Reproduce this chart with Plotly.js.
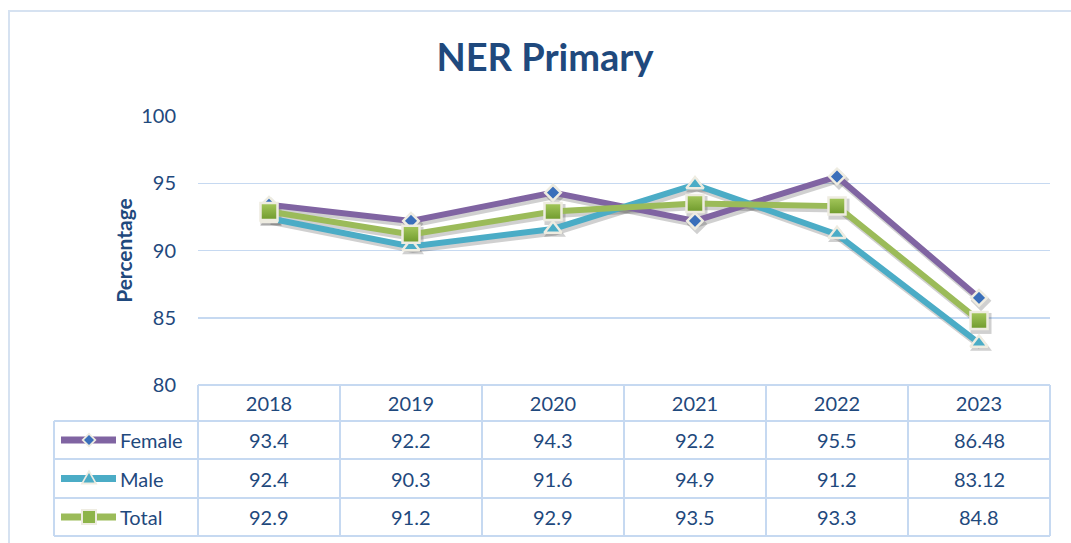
<!DOCTYPE html>
<html>
<head>
<meta charset="utf-8">
<script src="https://cdn.plot.ly/plotly-3.0.1.min.js"></script>
<style>html,body{margin:0;padding:0;background:#fff;}#chart{width:1071px;height:543px;}</style>
</head>
<body>
<div id="chart"></div>
<script>
const years = [2018, 2019, 2020, 2021, 2022, 2023];
const female = [93.4, 92.2, 94.3, 92.2, 95.5, 86.48];
const male = [92.4, 90.3, 91.6, 94.9, 91.2, 83.12];
const total = [92.9, 91.2, 92.9, 93.5, 93.3, 84.8];
const seriesNames = ['Female', 'Male', 'Total'];

const W = 1071, H = 543;
const px = x => x / W;
const py = y => 1 - y / H;

const TXT = '#1f497d';
const FONT = 'Lato, "Open Sans", sans-serif';
const GRID = '#c6d9f1';
const cPurple = '#8064a2', cTeal = '#4bacc6', cGreen = '#9bbb59';
const cream = '#eeece1';

const plotL = 198, plotR = 1050, plotT = 116, plotB = 385;
const xDom = [px(plotL), px(plotR)];
const yDom = [py(plotB), py(plotT)];
const sdx = 2, sdy = 3;
const xDomS = [px(plotL + sdx), px(plotR + sdx)];
const yDomS = [py(plotB + sdy), py(plotT + sdy)];
const xRange = [years[0] - 0.5, years[years.length - 1] + 0.5];
const yRange = [80, 100];

const styles = [
  {color: cPurple, symbol: 'diamond', size: 12, mcolor: '#3a6fba', grad: null},
  {color: cTeal, symbol: 'triangle-up', size: 15, mcolor: '#4bacc6', grad: null},
  {color: cGreen, symbol: 'square', size: 17, mcolor: '#a5c85c', grad: '#6f9a2c'}
];
const data = [female, male, total];

const traces = [];
// shadows
data.forEach((vals, i) => {
  const s = styles[i];
  traces.push({
    x: years, y: vals, xaxis: 'x2', yaxis: 'y2', type: 'scatter', mode: 'lines+markers',
    line: {color: 'rgba(40,40,40,0.22)', width: 7},
    marker: {symbol: s.symbol, size: s.size + 4, color: 'rgba(40,40,40,0.22)', line: {width: 0}},
    showlegend: false, hoverinfo: 'skip'
  });
});
// main series
data.forEach((vals, i) => {
  const s = styles[i];
  const m = {symbol: s.symbol, size: s.size, color: s.mcolor, line: {color: cream, width: 2.5}};
  if (s.grad) m.gradient = {type: 'vertical', color: s.grad};
  traces.push({
    x: years, y: vals, name: seriesNames[i], xaxis: 'x3', yaxis: 'y3', type: 'scatter', mode: 'lines+markers',
    line: {color: s.color, width: 6},
    marker: m, showlegend: false
  });
});

// table geometry (pixels)
const labelL = 54;
const rowLines = [421, 459, 498, 536];
const rowCenters = [440, 478.5, 517];
const shapes = [];
const lineShape = (x0, y0, x1, y1, color, width) => ({
  type: 'line', xref: 'paper', yref: 'paper', x0: px(x0), y0: py(y0), x1: px(x1), y1: py(y1),
  line: {color: color, width: width}, layer: 'above'
});
// outer chart border
shapes.push({type: 'rect', xref: 'paper', yref: 'paper', x0: px(9), y0: py(11), x1: px(1090), y1: py(560),
  line: {color: '#d6e2f1', width: 2}, layer: 'below'});
// table borders
const TB = '#c6d9f1';
shapes.push(lineShape(plotL, plotB, plotR, plotB, TB, 2));
rowLines.forEach(y => shapes.push(lineShape(labelL, y, plotR, y, TB, 2)));
shapes.push(lineShape(labelL, rowLines[0], labelL, rowLines[3], TB, 2));
const colW = (plotR - plotL) / years.length;
for (let i = 0; i <= years.length; i++) {
  const x = plotL + i * colW;
  shapes.push(lineShape(x, plotB, x, rowLines[3], TB, 2));
}
// legend keys
const pathFrom = pts => 'M' + pts.map(p => px(p[0]) + ',' + py(p[1])).join('L') + 'Z';
const keyX0 = 61, keyX1 = 116, keyM = 89;
[cPurple, cTeal, cGreen].forEach((c, i) => {
  shapes.push(lineShape(keyX0, rowCenters[i], keyX1, rowCenters[i], c, 7));
});
const kc = rowCenters;
shapes.push({type: 'path', xref: 'paper', yref: 'paper', path: pathFrom([[keyM, kc[0] - 7.5], [keyM + 7.5, kc[0]], [keyM, kc[0] + 7.5], [keyM - 7.5, kc[0]]]),
  fillcolor: cream, line: {width: 0}, layer: 'above'});
shapes.push({type: 'path', xref: 'paper', yref: 'paper', path: pathFrom([[keyM, kc[0] - 5], [keyM + 5, kc[0]], [keyM, kc[0] + 5], [keyM - 5, kc[0]]]),
  fillcolor: '#3a6fba', line: {width: 0}, layer: 'above'});
shapes.push({type: 'path', xref: 'paper', yref: 'paper', path: pathFrom([[keyM, kc[1] - 9], [keyM + 8.5, kc[1] + 6], [keyM - 8.5, kc[1] + 6]]),
  fillcolor: cream, line: {width: 0}, layer: 'above'});
shapes.push({type: 'path', xref: 'paper', yref: 'paper', path: pathFrom([[keyM, kc[1] - 5.5], [keyM + 5.5, kc[1] + 4], [keyM - 5.5, kc[1] + 4]]),
  fillcolor: cTeal, line: {width: 0}, layer: 'above'});
shapes.push({type: 'path', xref: 'paper', yref: 'paper', path: pathFrom([[keyM - 8, kc[2] - 8], [keyM + 8, kc[2] - 8], [keyM + 8, kc[2] + 8], [keyM - 8, kc[2] + 8]]),
  fillcolor: cream, line: {width: 0}, layer: 'above'});
shapes.push({type: 'path', xref: 'paper', yref: 'paper', path: pathFrom([[keyM - 6, kc[2] - 6], [keyM + 6, kc[2] - 6], [keyM + 6, kc[2] + 6], [keyM - 6, kc[2] + 6]]),
  fillcolor: '#8db44a', line: {width: 0}, layer: 'above'});

// annotations: labels and values
const annotations = [];
seriesNames.forEach((n, i) => {
  annotations.push({xref: 'paper', yref: 'paper', x: px(118), y: py(rowCenters[i]), xanchor: 'left', yanchor: 'middle',
    text: n, showarrow: false, font: {family: FONT, size: 20, color: TXT}});
  data[i].forEach((v, j) => {
    annotations.push({xref: 'x', yref: 'paper', x: years[j], y: py(rowCenters[i]), xanchor: 'center', yanchor: 'middle',
      text: String(v), showarrow: false, font: {family: FONT, size: 20, color: TXT}});
  });
});

const hiddenAxis = (dom, anchor, range) => ({domain: dom, anchor: anchor, range: range, visible: false, fixedrange: true});

const layout = {
  width: W, height: H,
  margin: {l: 0, r: 0, t: 0, b: 0},
  paper_bgcolor: '#ffffff', plot_bgcolor: 'rgba(0,0,0,0)',
  font: {family: FONT, color: TXT},
  title: {text: '<b>NER Primary</b>', font: {family: FONT, size: 38, color: TXT},
    x: px(545), xanchor: 'center', xref: 'paper', y: py(58), yanchor: 'middle', yref: 'container'},
  showlegend: false,
  hovermode: false,
  xaxis: {domain: xDom, anchor: 'y', range: xRange, tickmode: 'linear', tick0: years[0], dtick: 1,
    showgrid: false, zeroline: false, showline: false, ticks: '', ticklabelstandoff: 5,
    tickfont: {family: FONT, size: 20, color: TXT}, fixedrange: true},
  yaxis: {domain: yDom, anchor: 'x', range: yRange, tickmode: 'linear', tick0: 80, dtick: 5,
    showgrid: true, gridcolor: GRID, gridwidth: 1.5, zeroline: false, showline: false, ticks: '',
    ticklabelstandoff: 21, tickfont: {family: FONT, size: 20, color: TXT}, fixedrange: true,
    title: {text: '<b>Percentage</b>', font: {family: FONT, size: 21, color: TXT}, standoff: 2}},
  xaxis2: hiddenAxis(xDomS, 'y2', xRange),
  yaxis2: hiddenAxis(yDomS, 'x2', yRange),
  xaxis3: hiddenAxis(xDom, 'y3', xRange),
  yaxis3: hiddenAxis(yDom, 'x3', yRange),
  shapes: shapes,
  annotations: annotations
};

Plotly.newPlot('chart', traces, layout, {displayModeBar: false, staticPlot: true});
</script>
</body>
</html>
